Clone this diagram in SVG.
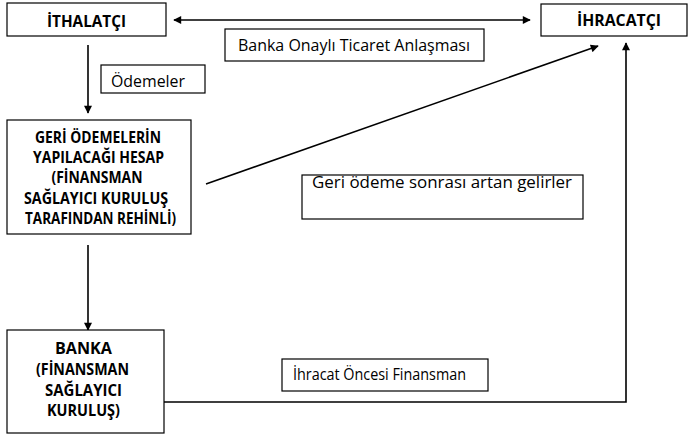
<svg xmlns="http://www.w3.org/2000/svg" width="692" height="438" viewBox="0 0 692 438">
  <style>
    .box { fill: #fff; stroke: #000; stroke-width: 1.2; }
    .node { font-family: "Open Sans", "Noto Sans", Arial, sans-serif; font-weight: bold; font-size: 15.5px; fill: #000; text-anchor: middle; }
    .lbl { font-family: "Open Sans", "Noto Sans", Arial, sans-serif; font-size: 16px; fill: #000; }
    .wire { fill: none; stroke: #000; stroke-width: 1.6; }
  </style>
  <defs>
    <marker id="head" viewBox="0 0 10 10" refX="9" refY="5" markerWidth="9" markerHeight="8" orient="auto-start-reverse" markerUnits="userSpaceOnUse">
      <path d="M0,0 L10,5 L0,10 Z" fill="#000"/>
    </marker>
  </defs>
  <rect width="692" height="438" fill="#fff"/>

  <g id="connectors">
    <line class="wire" x1="174" y1="20" x2="530" y2="20" marker-start="url(#head)" marker-end="url(#head)"/>
    <line class="wire" x1="88" y1="45" x2="88" y2="113" marker-end="url(#head)"/>
    <line class="wire" x1="206" y1="184" x2="598" y2="46" marker-end="url(#head)"/>
    <line class="wire" x1="88" y1="245" x2="88" y2="330" marker-end="url(#head)"/>
    <polyline class="wire" points="164,402 626,402 626,43" marker-end="url(#head)"/>
  </g>

  <g id="ithalatci">
    <rect class="box" x="7" y="3" width="159" height="33"/>
    <text class="node" x="86.5" y="27" textLength="79" lengthAdjust="spacingAndGlyphs">İTHALATÇI</text>
  </g>

  <g id="ihracatci">
    <rect class="box" x="541" y="4" width="146" height="32"/>
    <text class="node" x="619" y="26" textLength="84" lengthAdjust="spacingAndGlyphs">İHRACATÇI</text>
  </g>

  <g id="hesap">
    <rect class="box" x="7" y="120" width="184" height="114"/>
    <text class="node" x="98" y="143" textLength="126" lengthAdjust="spacingAndGlyphs">GERİ ÖDEMELERİN</text>
    <text class="node" x="98.5" y="163" textLength="131" lengthAdjust="spacingAndGlyphs">YAPILACAĞI HESAP</text>
    <text class="node" x="97" y="183" textLength="91" lengthAdjust="spacingAndGlyphs">(FİNANSMAN</text>
    <text class="node" x="96" y="204" textLength="144" lengthAdjust="spacingAndGlyphs">SAĞLAYICI KURULUŞ</text>
    <text class="node" x="100.5" y="224" textLength="151" lengthAdjust="spacingAndGlyphs">TARAFINDAN REHİNLİ)</text>
  </g>

  <g id="banka">
    <rect class="box" x="7" y="330" width="157" height="103"/>
    <text class="node" x="83.5" y="354" textLength="57" lengthAdjust="spacingAndGlyphs">BANKA</text>
    <text class="node" x="82.5" y="375" textLength="93" lengthAdjust="spacingAndGlyphs">(FİNANSMAN</text>
    <text class="node" x="83.5" y="396" textLength="77" lengthAdjust="spacingAndGlyphs">SAĞLAYICI</text>
    <text class="node" x="83.5" y="416" textLength="73" lengthAdjust="spacingAndGlyphs">KURULUŞ)</text>
  </g>

  <g id="label-anlasma">
    <rect class="box" x="225" y="29" width="259" height="32"/>
    <text class="lbl" x="238" y="51" textLength="232" lengthAdjust="spacingAndGlyphs">Banka Onaylı Ticaret Anlaşması</text>
  </g>

  <g id="label-odemeler">
    <rect class="box" x="101" y="65" width="104" height="28"/>
    <text class="lbl" x="111" y="87" textLength="74" lengthAdjust="spacingAndGlyphs">Ödemeler</text>
  </g>

  <g id="label-gelirler">
    <rect class="box" x="302" y="175" width="281" height="44"/>
    <text class="lbl" x="312" y="188" textLength="260" lengthAdjust="spacingAndGlyphs">Geri ödeme sonrası artan gelirler</text>
  </g>

  <g id="label-finansman">
    <rect class="box" x="282" y="359" width="206" height="32"/>
    <text class="lbl" x="293" y="380" textLength="173" lengthAdjust="spacingAndGlyphs">İhracat Öncesi Finansman</text>
  </g>
</svg>
